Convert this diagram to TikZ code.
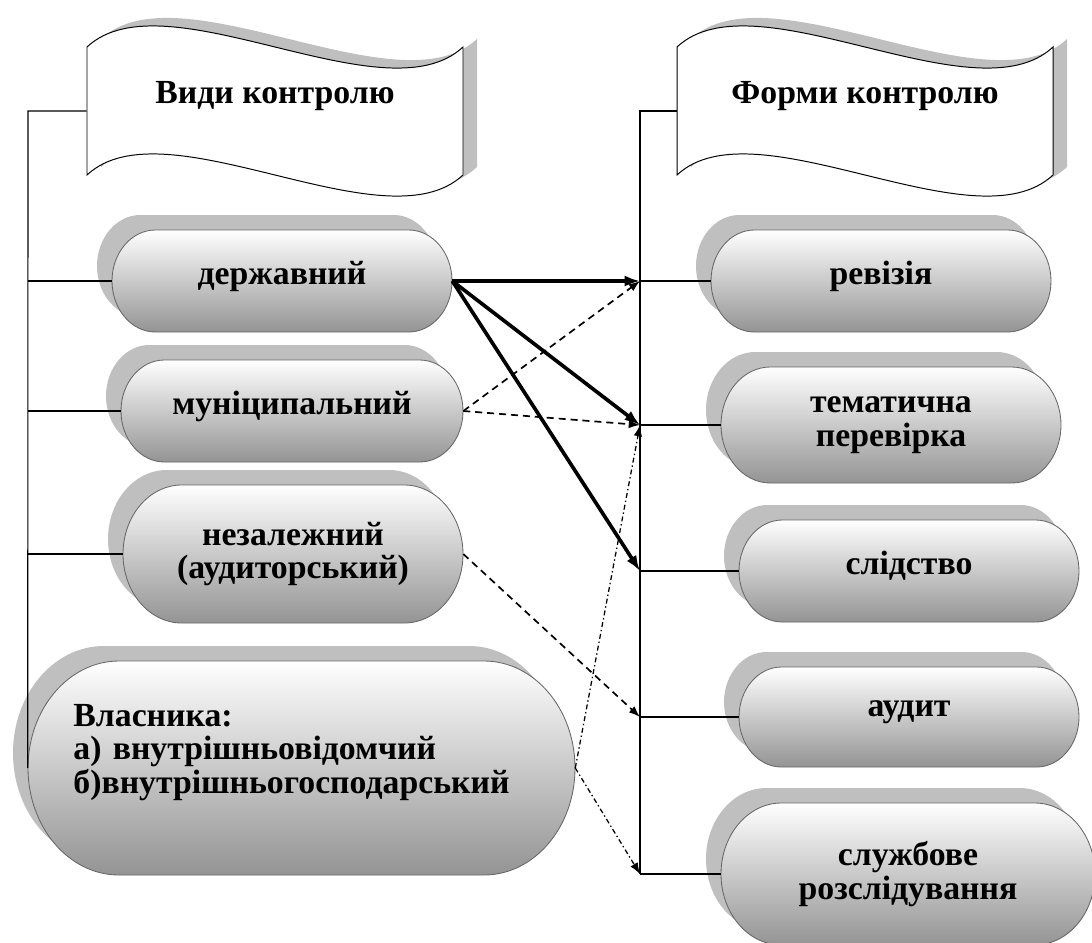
\documentclass[tikz,border=0pt]{standalone}
\usepackage{fontspec}
\setmainfont{Liberation Serif}[BoldFont={Liberation Serif Bold}]
\usetikzlibrary{arrows.meta}

% pill outline round (0,0): half width #1, half height #2
\newcommand{\pillpath}[2]{(-#1+0.85*#2,-#2) -- (#1-0.85*#2,-#2)
  .. controls (#1-0.381*#2,-#2) and (#1,-0.552*#2) .. (#1,0)
  .. controls (#1,0.552*#2) and (#1-0.381*#2,#2) .. (#1-0.85*#2,#2)
  -- (-#1+0.85*#2,#2)
  .. controls (-#1+0.381*#2,#2) and (-#1,0.552*#2) .. (-#1,0)
  .. controls (-#1,-0.552*#2) and (-#1+0.381*#2,-#2) .. (-#1+0.85*#2,-#2) -- cycle}

% pill with shadow: name, x, y, half width, half height, options, text
\newcommand{\pill}[7]{%
  \fill[pillshadow, shift={(#2-15,#3-15)}] \pillpath{#4}{#5};
  \path[pillbody, shift={(#2,#3)}] \pillpath{#4}{#5};
  \node[pilltext, minimum width=2*#4*0.025cm, minimum height=2*#5*0.025cm, #6] (#1) at (#2,#3) {#7};
}

% waving flag round (0,0)
\newcommand{\flagpath}{(-188,-64) .. controls (-110,-137) and (110,9) .. (188,-64)
  -- (188,64) .. controls (110,137) and (-110,-9) .. (-188,64) -- cycle}

\begin{document}
\begin{tikzpicture}[x=0.025cm, y=-0.025cm,
    pillshadow/.style={fill=black!25},
    pillbody/.style={draw=black!60, line width=0.6pt, top color=white, bottom color=black!42},
    pilltext/.style={inner sep=0pt, align=center, font=\fontsize{24}{24}\selectfont\bfseries},
    oneline/.style={text depth=12pt},
    flagshadow/.style={fill=black!25},
    flagbody/.style={draw=black, line width=0.7pt, fill=white},
    flagtext/.style={pilltext, minimum width=9.4cm, minimum height=3.2cm, text depth=0.95cm},
    link/.style={line width=0.8pt},
    strong/.style={-{Latex[length=11pt,width=8pt]}, line width=2.6pt},
    weak/.style={-{Latex[length=8pt,width=6pt]}, line width=1.2pt, dash pattern=on 5pt off 3.5pt},
    owner/.style={-{Latex[length=8pt,width=6pt]}, line width=0.9pt, dash pattern=on 3.5pt off 2pt on 1pt off 2pt}
  ]
  \useasboundingbox (0,0) rectangle (1092,942);

  % Headers
  \fill[flagshadow, shift={(289,103)}] \flagpath;
  \draw[flagbody, shift={(275,111)}] \flagpath;
  \node[flagtext] (vydy) at (275,111) {Види контролю};
  \fill[flagshadow, shift={(879,103)}] \flagpath;
  \draw[flagbody, shift={(865,111)}] \flagpath;
  \node[flagtext] (formy) at (865,111) {Форми контролю};

  % Kinds
  \pill{derzh}{282}{281}{170}{51}{oneline}{державний}
  \pill{munits}{292}{411}{171}{51}{oneline}{муніципальний}
  \pill{nezal}{293}{554}{170}{69}{}{незалежний\\(аудиторський)}
  \pill{vlasn}{301.5}{768}{273.5}{107}{align=left, text width=11.4cm, text depth=2.65cm}{Власника:\\а) внутрішньовідомчий\\б)внутрішньогосподарський}

  % Forms
  \pill{reviz}{881}{281}{170}{51}{oneline}{ревізія}
  \pill{temat}{891}{425}{170}{58}{}{тематична\\перевірка}
  \pill{slid}{909}{571}{170}{51}{oneline}{слідство}
  \pill{audyt}{909}{717}{170}{50}{oneline}{аудит}
  \pill{sluzh}{908}{874}{187}{71}{}{службове\\розслідування}

  % Spines
  \coordinate (ltop) at (28,111);
  \coordinate (rtop) at (640,111);
  \draw[link] (vydy.west) -- (ltop) -- (vlasn.west);
  \draw[link] (formy.west) -- (rtop) -- (sluzh.west -| rtop);
  \foreach \n in {derzh, munits, nezal}
    \draw[link] (\n.west -| ltop) -- (\n.west);
  \foreach \n in {reviz, temat, slid, audyt, sluzh}
    \draw[link] (\n.west -| rtop) -- (\n.west);

  % Arrows
  \foreach \t in {reviz, temat, slid}
    \draw[strong] (derzh.east) -- (\t.west -| rtop);
  \foreach \t in {reviz, temat}
    \draw[weak] (munits.east) -- (\t.west -| rtop);
  \draw[weak] (nezal.east) -- (audyt.west -| rtop);
  \foreach \t in {temat, sluzh}
    \draw[owner] (vlasn.east) -- (\t.west -| rtop);
\end{tikzpicture}
\end{document}
